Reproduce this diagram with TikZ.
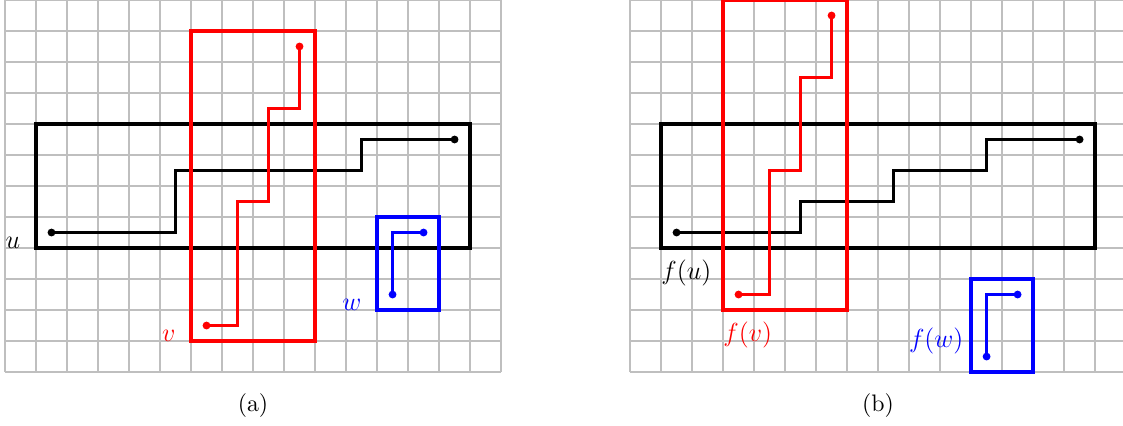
\documentclass[tikz,border=0pt]{standalone}
\usepackage{amsmath}
\usepackage{amssymb}
\usetikzlibrary{calc}

\begin{document}
\begin{tikzpicture}[x=0.5cm,y=0.5cm,font=\fontsize{10.95}{13.6}\selectfont,
        grd/.style={gray!50,line width=0.6pt,step=0.5cm},
        box/.style={line width=1.8pt},
        route/.style={line width=1.3pt,line join=miter},
        big/.style={font=\fontsize{12}{14.5}\selectfont},
        lbl/.style={big,anchor=base east,inner sep=0pt,xshift=-7pt}]
    \useasboundingbox (-0.161,-1.71) rectangle (36.06,12);
    % (a)
    \draw[grd] (0,0) grid (16,12);
    \draw[box] (1,4) rectangle (15,8);
    \draw[route] (1.5,4.5)--(5.5,4.5)--(5.5,6.5)--(11.5,6.5)--(11.5,7.5)--(14.5,7.5);
    \fill (1.5,4.5) circle (1.8pt) (14.5,7.5) circle (1.8pt);
    \draw[box,red] (6,1) rectangle (10,11);
    \draw[route,red] (6.5,1.5)--(7.5,1.5)--(7.5,5.5)--(8.5,5.5)--(8.5,8.5)--(9.5,8.5)--(9.5,10.5);
    \fill[red] (6.5,1.5) circle (1.8pt) (9.5,10.5) circle (1.8pt);
    \draw[box,blue] (12,2) rectangle (14,5);
    \draw[route,blue] (12.5,2.5)--(12.5,4.5)--(13.5,4.5);
    \fill[blue] (12.5,2.5) circle (1.8pt) (13.5,4.5) circle (1.8pt);
    \node[lbl] (u) at (1,4) {\(u\)};
    \node[lbl,red] (v) at (6,1) {\(v\)};
    \node[lbl,blue] (w) at (12,2) {\(w\)};
    \node (capa) at (8,-1.07) {(a)};
    % (b)
    \begin{scope}[xshift=10.08cm]
        \draw[grd] (0,0) grid (16,12);
        \draw[box] (1,4) rectangle (15,8);
        \draw[route] (1.5,4.5)--(5.5,4.5)--(5.5,5.5)--(8.5,5.5)--(8.5,6.5)--(11.5,6.5)--(11.5,7.5)--(14.5,7.5);
        \fill (1.5,4.5) circle (1.8pt) (14.5,7.5) circle (1.8pt);
        \draw[box,red] (3,2) rectangle (7,12);
        \draw[route,red] (3.5,2.5)--(4.5,2.5)--(4.5,6.5)--(5.5,6.5)--(5.5,9.5)--(6.5,9.5)--(6.5,11.5);
        \fill[red] (3.5,2.5) circle (1.8pt) (6.5,11.5) circle (1.8pt);
        \draw[box,blue] (11,0) rectangle (13,3);
        \draw[route,blue] (11.5,0.5)--(11.5,2.5)--(12.5,2.5);
        \fill[blue] (11.5,0.5) circle (1.8pt) (12.5,2.5) circle (1.8pt);
        \node[big,anchor=base west,inner sep=0pt] (fu) at (1,3) {\(f(u)\)};
        \node[big,anchor=base west,inner sep=0pt,red] (fv) at (3,1) {\(f(v)\)};
        \node[big,left,blue] (fw) at (11,1) {\(f(w)\)};
        \node (capb) at (8,-1.07) {(b)};
    \end{scope}
\end{tikzpicture}
\end{document}
